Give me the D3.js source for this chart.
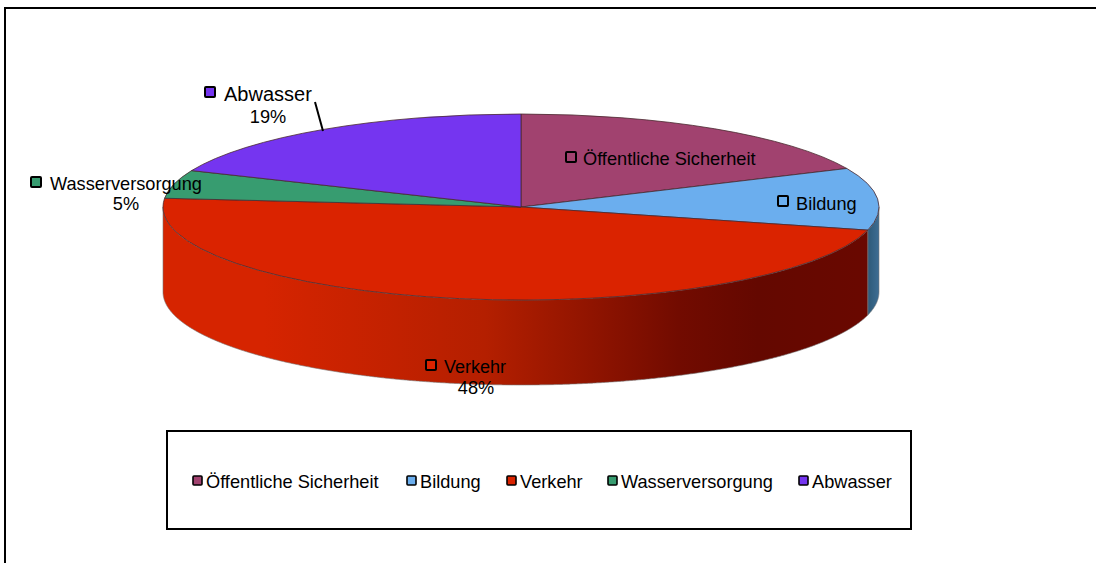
<!DOCTYPE html>
<html>
<head>
<meta charset="utf-8">
<script src="https://cdn.jsdelivr.net/npm/d3@7"></script>
<style>
  html, body { margin: 0; padding: 0; background: #fff; overflow: hidden; }
  svg { display: block; }
  text { font-family: "Liberation Sans", Arial, sans-serif; fill: #000; }
</style>
</head>
<body>
<div id="chart"></div>
<script>
const categories = ["Öffentliche Sicherheit", "Bildung", "Verkehr", "Wasserversorgung", "Abwasser"];
const values = [18.2, 10.8, 47.5, 4.9, 18.6];
const colors = ["#a1426f", "#6baeee", "#da2300", "#379c70", "#7535f0"];
const shownPercent = [false, false, true, true, true];

const width = 1096;
const height = 563;

const cx = 521, cy = 207, rx = 358, ry = 93, depth = 85;

const svg = d3.select("#chart").append("svg")
  .attr("width", width)
  .attr("height", height);

// outer frame, runs off the right and bottom of the picture
svg.append("rect")
  .attr("x", 5).attr("y", 8)
  .attr("width", 1110).attr("height", 580)
  .attr("fill", "#fff").attr("stroke", "#000").attr("stroke-width", 2);

const pie = d3.pie().sort(null).value(d => d)(values);

const px = a => cx + rx * Math.sin(a);
const py = a => cy - ry * Math.cos(a);

// gradients for the walls
const defs = svg.append("defs");
const wallGrad = defs.append("linearGradient")
  .attr("id", "wallRed").attr("gradientUnits", "userSpaceOnUse")
  .attr("x1", 163).attr("x2", 879).attr("y1", 0).attr("y2", 0);
[[0, "#d62400"], [0.14, "#d62400"], [0.45, "#b41f00"], [0.72, "#720b00"], [0.83, "#640800"], [1, "#6a0800"]]
  .forEach(s => wallGrad.append("stop").attr("offset", s[0]).attr("stop-color", s[1]));
const wallBlue = defs.append("linearGradient")
  .attr("id", "wallBlue").attr("gradientUnits", "userSpaceOnUse")
  .attr("x1", 868).attr("x2", 880).attr("y1", 0).attr("y2", 0);
[[0, "#2e5a78"], [1, "#3f6f96"]]
  .forEach(s => wallBlue.append("stop").attr("offset", s[0]).attr("stop-color", s[1]));

const wallFill = { 1: "url(#wallBlue)", 2: "url(#wallRed)" };

// side walls, only the part facing the viewer
const wallArea = d3.area()
  .x(px)
  .y0(a => py(a) + depth)
  .y1(py);

const wallG = svg.append("g");
pie.forEach((d, i) => {
  const a0 = Math.max(d.startAngle, Math.PI / 2);
  const a1 = Math.min(d.endAngle, Math.PI * 1.5);
  if (a1 <= a0) return;
  wallG.append("path")
    .attr("d", wallArea(d3.range(a0, a1, 0.005).concat([a1])))
    .attr("fill", wallFill[i] || colors[i])
    .attr("stroke", "#777")
    .attr("stroke-width", 0.6);
});

// top face: circular arcs squashed into the ellipse
const arc = d3.arc().innerRadius(0).outerRadius(rx);
svg.append("g")
  .attr("transform", `translate(${cx},${cy}) scale(1,${ry / rx})`)
  .selectAll("path")
  .data(pie)
  .join("path")
  .attr("d", arc)
  .attr("fill", (d, i) => colors[i])
  .attr("stroke", "#4a2a30")
  .attr("stroke-width", 0.8)
  .attr("vector-effect", "non-scaling-stroke");

// leader line for Abwasser
svg.append("line")
  .attr("x1", 315).attr("y1", 102)
  .attr("x2", 323).attr("y2", 131)
  .attr("stroke", "#000").attr("stroke-width", 2);

// data labels
const labelPos = [
  { sx: 571, sy: 157, tx: 583, ty: 165, size: 18.2 },
  { sx: 783, sy: 201, tx: 796, ty: 210, size: 18.2 },
  { sx: 431, sy: 365, tx: 444, ty: 373, size: 18 },
  { sx: 36, sy: 182, tx: 50, ty: 190, size: 18.2 },
  { sx: 210, sy: 92, tx: 224, ty: 100.5, size: 20 }
];
const pctPos = { 2: [476, 394], 3: [126, 210], 4: [268, 123] };
const fontSize = 18.2;

const labels = svg.append("g").selectAll("g")
  .data(categories)
  .join("g");

labels.append("rect")
  .attr("x", (d, i) => labelPos[i].sx - 5)
  .attr("y", (d, i) => labelPos[i].sy - 5)
  .attr("width", 10).attr("height", 10)
  .attr("rx", 1)
  .attr("fill", (d, i) => colors[i])
  .attr("stroke", "#000").attr("stroke-width", 2);

labels.append("text")
  .attr("x", (d, i) => labelPos[i].tx)
  .attr("y", (d, i) => labelPos[i].ty)
  .attr("font-size", (d, i) => labelPos[i].size)
  .text(d => d);

labels.filter((d, i) => shownPercent[i]).append("text")
  .attr("text-anchor", "middle")
  .attr("x", d => pctPos[categories.indexOf(d)][0])
  .attr("y", d => pctPos[categories.indexOf(d)][1])
  .attr("font-size", fontSize)
  .text(d => Math.round(values[categories.indexOf(d)]) + "%");

// legend
const legend = svg.append("g");
legend.append("rect")
  .attr("x", 167).attr("y", 431)
  .attr("width", 744).attr("height", 98)
  .attr("fill", "#fff").attr("stroke", "#000").attr("stroke-width", 2);

const legendX = [197, 411, 511, 612, 803];
const legendItems = legend.selectAll("g")
  .data(categories)
  .join("g")
  .attr("transform", (d, i) => `translate(${legendX[i]},481)`);

legendItems.append("rect")
  .attr("x", -4).attr("y", -5)
  .attr("width", 9).attr("height", 9)
  .attr("rx", 1)
  .attr("fill", (d, i) => colors[i])
  .attr("stroke", "#000").attr("stroke-width", 1.6);

legendItems.append("text")
  .attr("x", 9).attr("y", 7)
  .attr("font-size", fontSize)
  .text(d => d);
</script>
</body>
</html>
